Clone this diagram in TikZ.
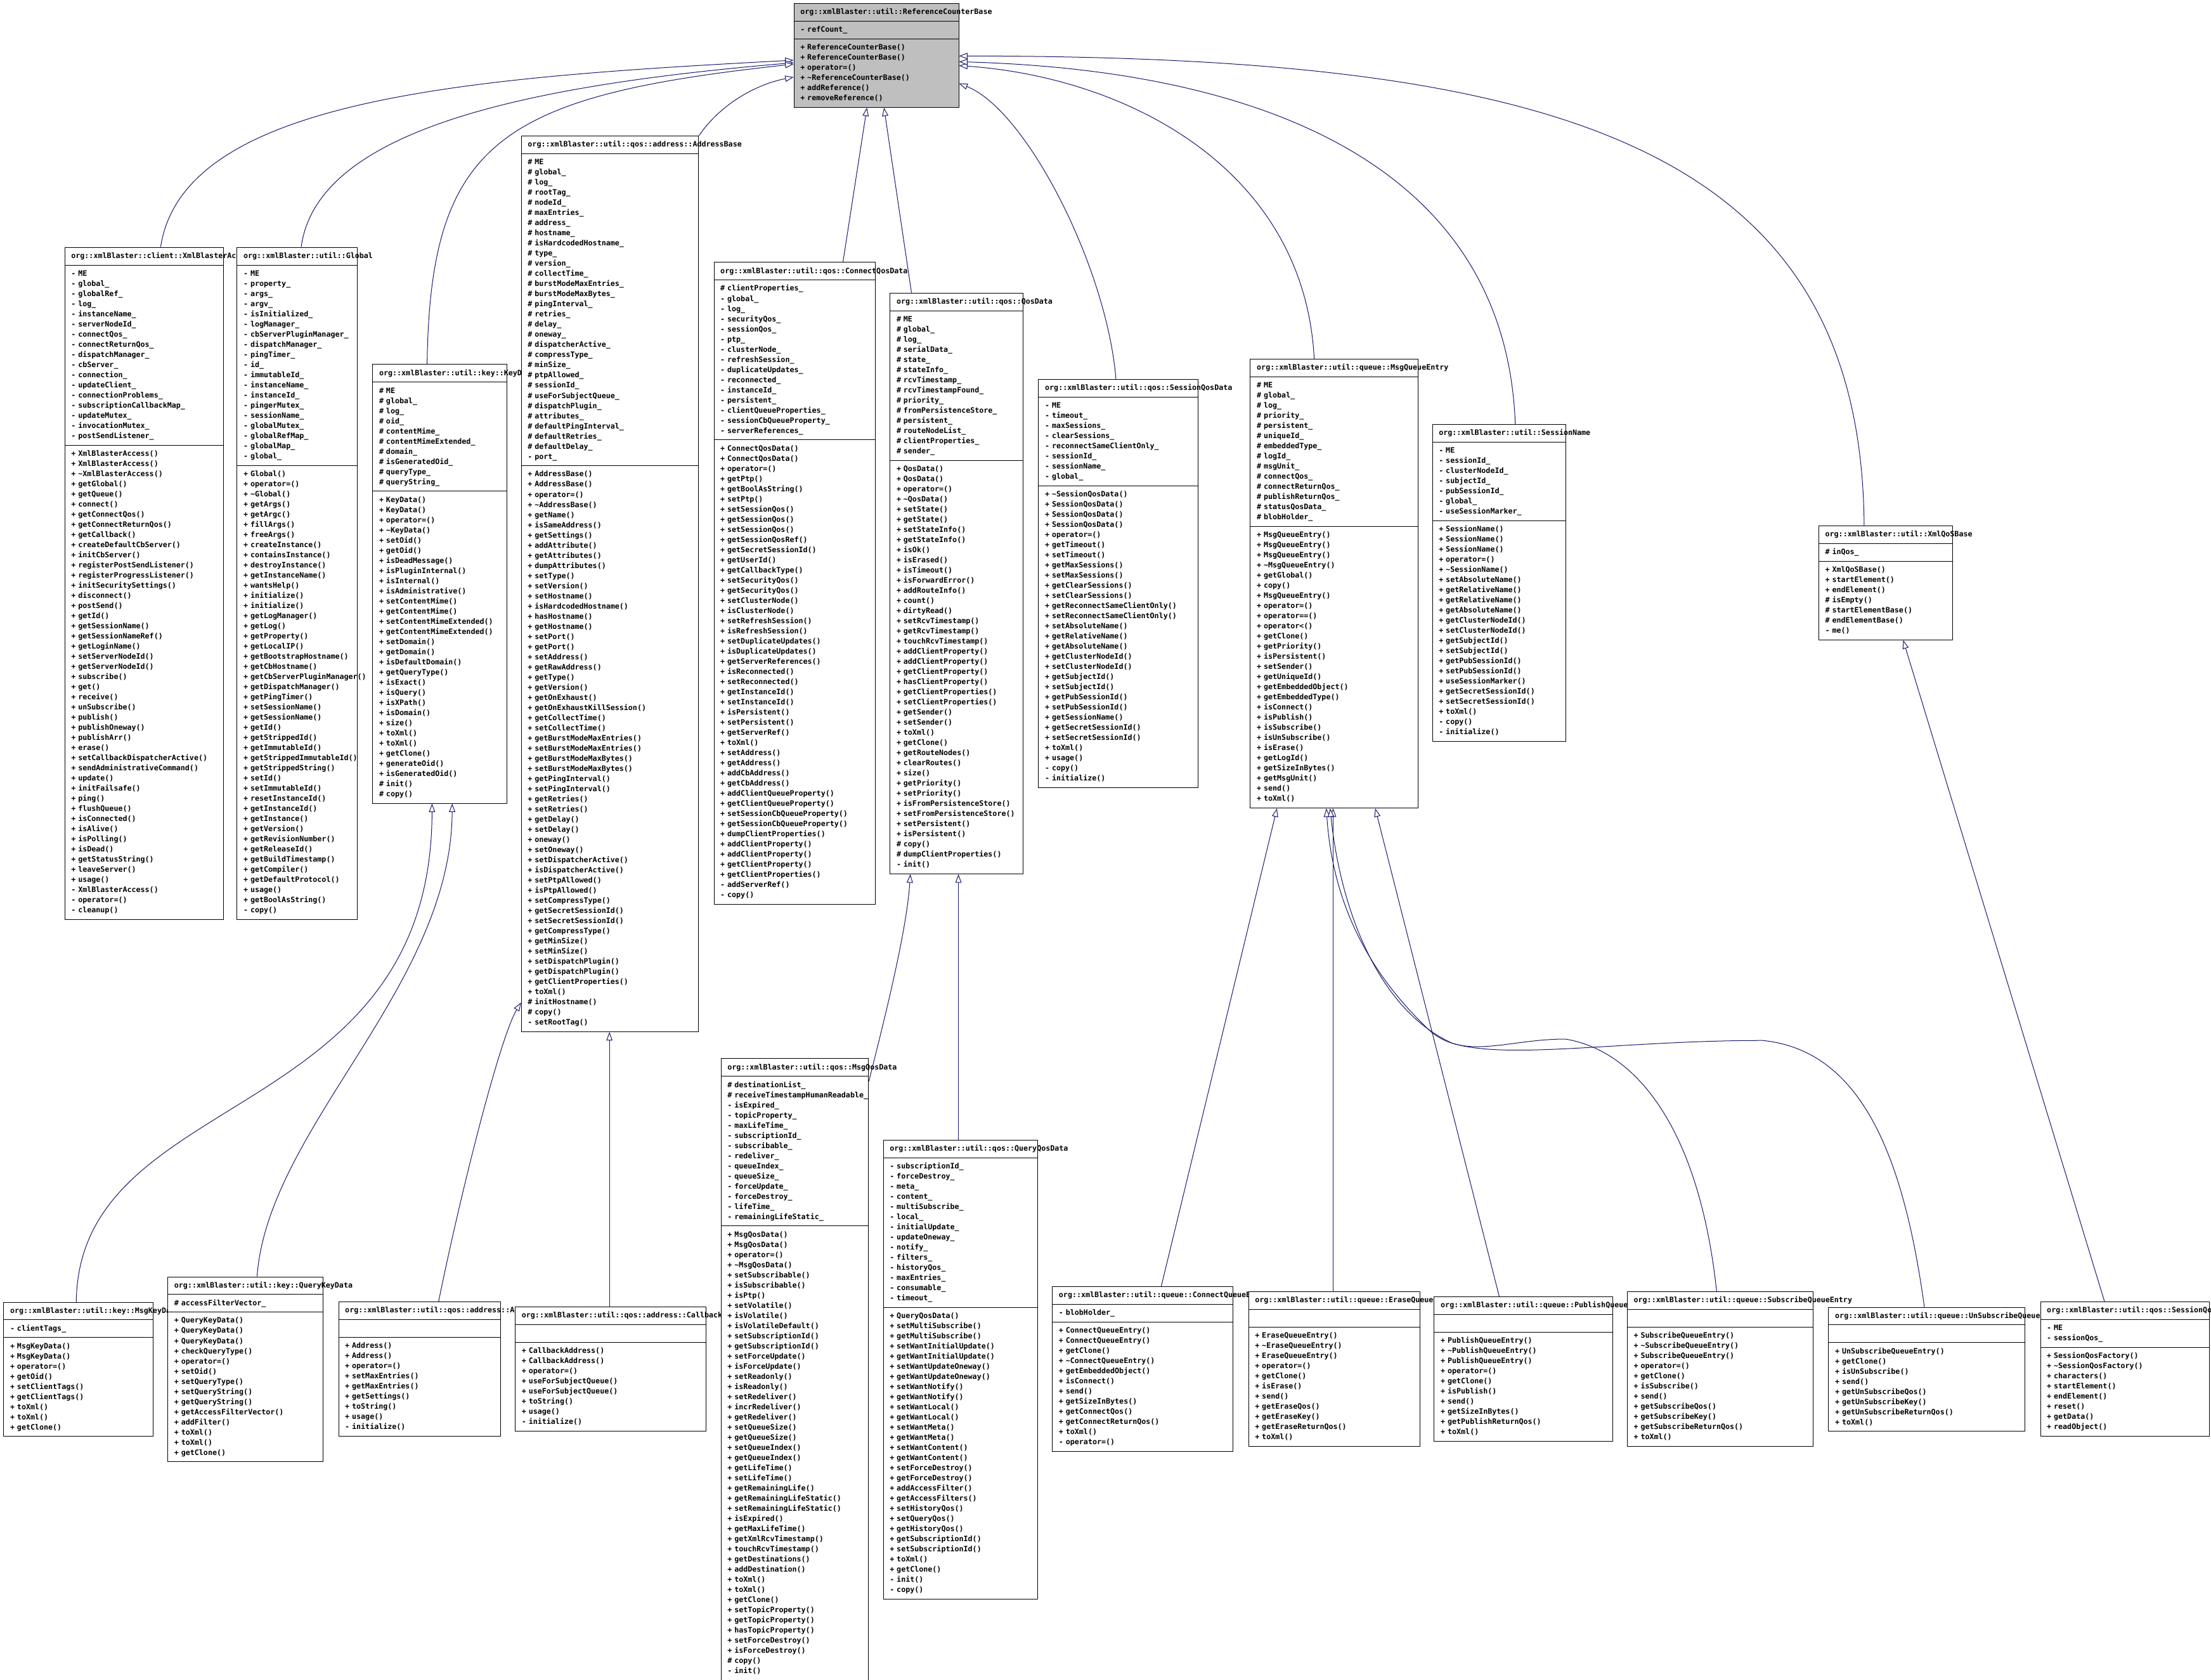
\documentclass[tikz,border=0pt]{standalone}
\usepackage{fontspec}
\setmainfont{DejaVu Sans Mono}[HyphenChar=None]
\usepackage{tikz}
\usetikzlibrary{shapes.multipart,arrows.meta,calc}
\setlength{\parindent}{0pt}
\definecolor{edgeblue}{RGB}{25,25,112}
\definecolor{basegray}{RGB}{191,191,191}
\newcommand{\dtor}{\textasciitilde}
\tikzset{
	umlclass/.style={rectangle split, rectangle split parts=3, draw=black, fill=white, line width=0.45pt,
		anchor=north west, align=left, inner xsep=4.6pt, inner ysep=2.45pt,
		font=\fontsize{5.25}{7.2}\selectfont\bfseries},
	inheritline/.style={draw=edgeblue, line width=0.45pt, -{Triangle[length=6pt,width=4.4pt,fill=white]}}
}
\begin{document}
\begin{tikzpicture}[x=1pt,y=-1pt]
		\fill[white] (0,0) rectangle (1568,1191.6);
		\useasboundingbox (0,0) rectangle (1568,1191.6);

		\node[umlclass, fill=basegray, text width=107.7pt] (refbase) at (562.8,2.25) {\strut org::xmlBlaster::util::ReferenceCounterBase\strut
			\nodepart{two}\strut -~refCount\_\strut
			\nodepart{three}\strut +~ReferenceCounterBase()\\+~ReferenceCounterBase()\\+~operator=()\\+~\dtor ReferenceCounterBase()\\+~addReference()\\+~removeReference()\strut};

		\node[umlclass, text width=103.2pt] (xba) at (45.7,175.2) {\strut org::xmlBlaster::client::XmlBlasterAccess\strut
			\nodepart{two}\strut -~ME\\-~global\_\\-~globalRef\_\\-~log\_\\-~instanceName\_\\-~serverNodeId\_\\-~connectQos\_\\-~connectReturnQos\_\\-~dispatchManager\_\\-~cbServer\_\\-~connection\_\\-~updateClient\_\\-~connectionProblems\_\\-~subscriptionCallbackMap\_\\-~updateMutex\_\\-~invocationMutex\_\\-~postSendListener\_\strut
			\nodepart{three}\strut +~XmlBlasterAccess()\\+~XmlBlasterAccess()\\+~\dtor XmlBlasterAccess()\\+~getGlobal()\\+~getQueue()\\+~connect()\\+~getConnectQos()\\+~getConnectReturnQos()\\+~getCallback()\\+~createDefaultCbServer()\\+~initCbServer()\\+~registerPostSendListener()\\+~registerProgressListener()\\+~initSecuritySettings()\\+~disconnect()\\+~postSend()\\+~getId()\\+~getSessionName()\\+~getSessionNameRef()\\+~getLoginName()\\+~setServerNodeId()\\+~getServerNodeId()\\+~subscribe()\\+~get()\\+~receive()\\+~unSubscribe()\\+~publish()\\+~publishOneway()\\+~publishArr()\\+~erase()\\+~setCallbackDispatcherActive()\\+~sendAdministrativeCommand()\\+~update()\\+~initFailsafe()\\+~ping()\\+~flushQueue()\\+~isConnected()\\+~isAlive()\\+~isPolling()\\+~isDead()\\+~getStatusString()\\+~leaveServer()\\+~usage()\\-~XmlBlasterAccess()\\-~operator=()\\-~cleanup()\strut};

		\node[umlclass, text width=76.2pt] (global) at (167.9,175.2) {\strut org::xmlBlaster::util::Global\strut
			\nodepart{two}\strut -~ME\\-~property\_\\-~args\_\\-~argv\_\\-~isInitialized\_\\-~logManager\_\\-~cbServerPluginManager\_\\-~dispatchManager\_\\-~pingTimer\_\\-~id\_\\-~immutableId\_\\-~instanceName\_\\-~instanceId\_\\-~pingerMutex\_\\-~sessionName\_\\-~globalMutex\_\\-~globalRefMap\_\\-~globalMap\_\\-~global\_\strut
			\nodepart{three}\strut +~Global()\\+~operator=()\\+~\dtor Global()\\+~getArgs()\\+~getArgc()\\+~fillArgs()\\+~freeArgs()\\+~createInstance()\\+~containsInstance()\\+~destroyInstance()\\+~getInstanceName()\\+~wantsHelp()\\+~initialize()\\+~initialize()\\+~getLogManager()\\+~getLog()\\+~getProperty()\\+~getLocalIP()\\+~getBootstrapHostname()\\+~getCbHostname()\\+~getCbServerPluginManager()\\+~getDispatchManager()\\+~getPingTimer()\\+~setSessionName()\\+~getSessionName()\\+~getId()\\+~getStrippedId()\\+~getImmutableId()\\+~getStrippedImmutableId()\\+~getStrippedString()\\+~setId()\\+~setImmutableId()\\+~resetInstanceId()\\+~getInstanceId()\\+~getInstance()\\+~getVersion()\\+~getRevisionNumber()\\+~getReleaseId()\\+~getBuildTimestamp()\\+~getCompiler()\\+~getDefaultProtocol()\\+~usage()\\+~getBoolAsString()\\-~copy()\strut};

		\node[umlclass, text width=86.1pt] (keydata) at (264.1,258.3) {\strut org::xmlBlaster::util::key::KeyData\strut
			\nodepart{two}\strut \#~ME\\\#~global\_\\\#~log\_\\\#~oid\_\\\#~contentMime\_\\\#~contentMimeExtended\_\\\#~domain\_\\\#~isGeneratedOid\_\\\#~queryType\_\\\#~queryString\_\strut
			\nodepart{three}\strut +~KeyData()\\+~KeyData()\\+~operator=()\\+~\dtor KeyData()\\+~setOid()\\+~getOid()\\+~isDeadMessage()\\+~isPluginInternal()\\+~isInternal()\\+~isAdministrative()\\+~setContentMime()\\+~getContentMime()\\+~setContentMimeExtended()\\+~getContentMimeExtended()\\+~setDomain()\\+~getDomain()\\+~isDefaultDomain()\\+~getQueryType()\\+~isExact()\\+~isQuery()\\+~isXPath()\\+~isDomain()\\+~size()\\+~toXml()\\+~toXml()\\+~getClone()\\+~generateOid()\\+~isGeneratedOid()\\\#~init()\\\#~copy()\strut};

		\node[umlclass, text width=116.5pt] (addrbase) at (369.5,96.3) {\strut org::xmlBlaster::util::qos::address::AddressBase\strut
			\nodepart{two}\strut \#~ME\\\#~global\_\\\#~log\_\\\#~rootTag\_\\\#~nodeId\_\\\#~maxEntries\_\\\#~address\_\\\#~hostname\_\\\#~isHardcodedHostname\_\\\#~type\_\\\#~version\_\\\#~collectTime\_\\\#~burstModeMaxEntries\_\\\#~burstModeMaxBytes\_\\\#~pingInterval\_\\\#~retries\_\\\#~delay\_\\\#~oneway\_\\\#~dispatcherActive\_\\\#~compressType\_\\\#~minSize\_\\\#~ptpAllowed\_\\\#~sessionId\_\\\#~useForSubjectQueue\_\\\#~dispatchPlugin\_\\\#~attributes\_\\\#~defaultPingInterval\_\\\#~defaultRetries\_\\\#~defaultDelay\_\\-~port\_\strut
			\nodepart{three}\strut +~AddressBase()\\+~AddressBase()\\+~operator=()\\+~\dtor AddressBase()\\+~getName()\\+~isSameAddress()\\+~getSettings()\\+~addAttribute()\\+~getAttributes()\\+~dumpAttributes()\\+~setType()\\+~setVersion()\\+~setHostname()\\+~isHardcodedHostname()\\+~hasHostname()\\+~getHostname()\\+~setPort()\\+~getPort()\\+~setAddress()\\+~getRawAddress()\\+~getType()\\+~getVersion()\\+~getOnExhaust()\\+~getOnExhaustKillSession()\\+~getCollectTime()\\+~setCollectTime()\\+~getBurstModeMaxEntries()\\+~setBurstModeMaxEntries()\\+~getBurstModeMaxBytes()\\+~setBurstModeMaxBytes()\\+~getPingInterval()\\+~setPingInterval()\\+~getRetries()\\+~setRetries()\\+~getDelay()\\+~setDelay()\\+~oneway()\\+~setOneway()\\+~setDispatcherActive()\\+~isDispatcherActive()\\+~setPtpAllowed()\\+~isPtpAllowed()\\+~setCompressType()\\+~getSecretSessionId()\\+~setSecretSessionId()\\+~getCompressType()\\+~getMinSize()\\+~setMinSize()\\+~setDispatchPlugin()\\+~getDispatchPlugin()\\+~getClientProperties()\\+~toXml()\\\#~initHostname()\\\#~copy()\\-~setRootTag()\strut};

		\node[umlclass, text width=105.3pt] (connqos) at (506.1,185.9) {\strut org::xmlBlaster::util::qos::ConnectQosData\strut
			\nodepart{two}\strut \#~clientProperties\_\\-~global\_\\-~log\_\\-~securityQos\_\\-~sessionQos\_\\-~ptp\_\\-~clusterNode\_\\-~refreshSession\_\\-~duplicateUpdates\_\\-~reconnected\_\\-~instanceId\_\\-~persistent\_\\-~clientQueueProperties\_\\-~sessionCbQueueProperty\_\\-~serverReferences\_\strut
			\nodepart{three}\strut +~ConnectQosData()\\+~ConnectQosData()\\+~operator=()\\+~getPtp()\\+~getBoolAsString()\\+~setPtp()\\+~setSessionQos()\\+~getSessionQos()\\+~setSessionQos()\\+~getSessionQosRef()\\+~getSecretSessionId()\\+~getUserId()\\+~getCallbackType()\\+~setSecurityQos()\\+~getSecurityQos()\\+~setClusterNode()\\+~isClusterNode()\\+~setRefreshSession()\\+~isRefreshSession()\\+~setDuplicateUpdates()\\+~isDuplicateUpdates()\\+~getServerReferences()\\+~isReconnected()\\+~setReconnected()\\+~getInstanceId()\\+~setInstanceId()\\+~isPersistent()\\+~setPersistent()\\+~getServerRef()\\+~toXml()\\+~setAddress()\\+~getAddress()\\+~addCbAddress()\\+~getCbAddress()\\+~addClientQueueProperty()\\+~getClientQueueProperty()\\+~setSessionCbQueueProperty()\\+~getSessionCbQueueProperty()\\+~dumpClientProperties()\\+~addClientProperty()\\+~addClientProperty()\\+~getClientProperty()\\+~getClientProperties()\\-~addServerRef()\\-~copy()\strut};

		\node[umlclass, text width=85.2pt] (qosdata) at (631,207.6) {\strut org::xmlBlaster::util::qos::QosData\strut
			\nodepart{two}\strut \#~ME\\\#~global\_\\\#~log\_\\\#~serialData\_\\\#~state\_\\\#~stateInfo\_\\\#~rcvTimestamp\_\\\#~rcvTimestampFound\_\\\#~priority\_\\\#~fromPersistenceStore\_\\\#~persistent\_\\\#~routeNodeList\_\\\#~clientProperties\_\\\#~sender\_\strut
			\nodepart{three}\strut +~QosData()\\+~QosData()\\+~operator=()\\+~\dtor QosData()\\+~setState()\\+~getState()\\+~setStateInfo()\\+~getStateInfo()\\+~isOk()\\+~isErased()\\+~isTimeout()\\+~isForwardError()\\+~addRouteInfo()\\+~count()\\+~dirtyRead()\\+~setRcvTimestamp()\\+~getRcvTimestamp()\\+~touchRcvTimestamp()\\+~addClientProperty()\\+~addClientProperty()\\+~getClientProperty()\\+~hasClientProperty()\\+~getClientProperties()\\+~setClientProperties()\\+~getSender()\\+~setSender()\\+~toXml()\\+~getClone()\\+~getRouteNodes()\\+~clearRoutes()\\+~size()\\+~getPriority()\\+~setPriority()\\+~isFromPersistenceStore()\\+~setFromPersistenceStore()\\+~setPersistent()\\+~isPersistent()\\\#~copy()\\\#~dumpClientProperties()\\-~init()\strut};

		\node[umlclass, text width=103.7pt] (sessqos) at (736.3,268.9) {\strut org::xmlBlaster::util::qos::SessionQosData\strut
			\nodepart{two}\strut -~ME\\-~timeout\_\\-~maxSessions\_\\-~clearSessions\_\\-~reconnectSameClientOnly\_\\-~sessionId\_\\-~sessionName\_\\-~global\_\strut
			\nodepart{three}\strut +~\dtor SessionQosData()\\+~SessionQosData()\\+~SessionQosData()\\+~SessionQosData()\\+~operator=()\\+~getTimeout()\\+~setTimeout()\\+~getMaxSessions()\\+~setMaxSessions()\\+~getClearSessions()\\+~setClearSessions()\\+~getReconnectSameClientOnly()\\+~setReconnectSameClientOnly()\\+~setAbsoluteName()\\+~getRelativeName()\\+~getAbsoluteName()\\+~getClusterNodeId()\\+~setClusterNodeId()\\+~getSubjectId()\\+~setSubjectId()\\+~getPubSessionId()\\+~setPubSessionId()\\+~getSessionName()\\+~getSecretSessionId()\\+~setSecretSessionId()\\+~toXml()\\+~usage()\\-~copy()\\-~initialize()\strut};

		\node[umlclass, text width=109.7pt] (msgentry) at (886.5,254.5) {\strut org::xmlBlaster::util::queue::MsgQueueEntry\strut
			\nodepart{two}\strut \#~ME\\\#~global\_\\\#~log\_\\\#~priority\_\\\#~persistent\_\\\#~uniqueId\_\\\#~embeddedType\_\\\#~logId\_\\\#~msgUnit\_\\\#~connectQos\_\\\#~connectReturnQos\_\\\#~publishReturnQos\_\\\#~statusQosData\_\\\#~blobHolder\_\strut
			\nodepart{three}\strut +~MsgQueueEntry()\\+~MsgQueueEntry()\\+~MsgQueueEntry()\\+~\dtor MsgQueueEntry()\\+~getGlobal()\\+~copy()\\+~MsgQueueEntry()\\+~operator=()\\+~operator==()\\+~operator<()\\+~getClone()\\+~getPriority()\\+~isPersistent()\\+~setSender()\\+~getUniqueId()\\+~getEmbeddedObject()\\+~getEmbeddedType()\\+~isConnect()\\+~isPublish()\\+~isSubscribe()\\+~isUnSubscribe()\\+~isErase()\\+~getLogId()\\+~getSizeInBytes()\\+~getMsgUnit()\\+~send()\\+~toXml()\strut};

		\node[umlclass, text width=85.4pt] (sessname) at (1015.6,300.9) {\strut org::xmlBlaster::util::SessionName\strut
			\nodepart{two}\strut -~ME\\-~sessionId\_\\-~clusterNodeId\_\\-~subjectId\_\\-~pubSessionId\_\\-~global\_\\-~useSessionMarker\_\strut
			\nodepart{three}\strut +~SessionName()\\+~SessionName()\\+~SessionName()\\+~operator=()\\+~\dtor SessionName()\\+~setAbsoluteName()\\+~getRelativeName()\\+~getRelativeName()\\+~getAbsoluteName()\\+~getClusterNodeId()\\+~setClusterNodeId()\\+~getSubjectId()\\+~setSubjectId()\\+~getPubSessionId()\\+~setPubSessionId()\\+~useSessionMarker()\\+~getSecretSessionId()\\+~setSecretSessionId()\\+~toXml()\\-~copy()\\-~initialize()\strut};

		\node[umlclass, text width=85.7pt] (xmlqos) at (1289.6,372.8) {\strut org::xmlBlaster::util::XmlQoSBase\strut
			\nodepart{two}\strut \#~inQos\_\strut
			\nodepart{three}\strut +~XmlQoSBase()\\+~startElement()\\+~endElement()\\\#~isEmpty()\\\#~startElementBase()\\\#~endElementBase()\\-~me()\strut};

		\node[umlclass, text width=96.9pt] (msgkey) at (2.4,923.4) {\strut org::xmlBlaster::util::key::MsgKeyData\strut
			\nodepart{two}\strut -~clientTags\_\strut
			\nodepart{three}\strut +~MsgKeyData()\\+~MsgKeyData()\\+~operator=()\\+~getOid()\\+~setClientTags()\\+~getClientTags()\\+~toXml()\\+~toXml()\\+~getClone()\strut};

		\node[umlclass, text width=101pt] (querykey) at (118.8,905.4) {\strut org::xmlBlaster::util::key::QueryKeyData\strut
			\nodepart{two}\strut \#~accessFilterVector\_\strut
			\nodepart{three}\strut +~QueryKeyData()\\+~QueryKeyData()\\+~QueryKeyData()\\+~checkQueryType()\\+~operator=()\\+~setOid()\\+~setQueryType()\\+~setQueryString()\\+~getQueryString()\\+~getAccessFilterVector()\\+~addFilter()\\+~toXml()\\+~toXml()\\+~getClone()\strut};

		\node[umlclass, text width=105.5pt] (address) at (239.9,923.3) {\strut org::xmlBlaster::util::qos::address::Address\strut
			\nodepart{two}\strut
			\nodepart{three}\strut +~Address()\\+~Address()\\+~operator=()\\+~setMaxEntries()\\+~getMaxEntries()\\+~getSettings()\\+~toString()\\+~usage()\\-~initialize()\strut};

		\node[umlclass, text width=126pt] (cbaddress) at (365.2,926.9) {\strut org::xmlBlaster::util::qos::address::CallbackAddress\strut
			\nodepart{two}\strut
			\nodepart{three}\strut +~CallbackAddress()\\+~CallbackAddress()\\+~operator=()\\+~useForSubjectQueue()\\+~useForSubjectQueue()\\+~toString()\\+~usage()\\-~initialize()\strut};

		\node[umlclass, text width=95.4pt] (msgqos) at (511.1,750.7) {\strut org::xmlBlaster::util::qos::MsgQosData\strut
			\nodepart{two}\strut \#~destinationList\_\\\#~receiveTimestampHumanReadable\_\\-~isExpired\_\\-~topicProperty\_\\-~maxLifeTime\_\\-~subscriptionId\_\\-~subscribable\_\\-~redeliver\_\\-~queueIndex\_\\-~queueSize\_\\-~forceUpdate\_\\-~forceDestroy\_\\-~lifeTime\_\\-~remainingLifeStatic\_\strut
			\nodepart{three}\strut +~MsgQosData()\\+~MsgQosData()\\+~operator=()\\+~\dtor MsgQosData()\\+~setSubscribable()\\+~isSubscribable()\\+~isPtp()\\+~setVolatile()\\+~isVolatile()\\+~isVolatileDefault()\\+~setSubscriptionId()\\+~getSubscriptionId()\\+~setForceUpdate()\\+~isForceUpdate()\\+~setReadonly()\\+~isReadonly()\\+~setRedeliver()\\+~incrRedeliver()\\+~getRedeliver()\\+~setQueueSize()\\+~getQueueSize()\\+~setQueueIndex()\\+~getQueueIndex()\\+~getLifeTime()\\+~setLifeTime()\\+~getRemainingLife()\\+~getRemainingLifeStatic()\\+~setRemainingLifeStatic()\\+~isExpired()\\+~getMaxLifeTime()\\+~getXmlRcvTimestamp()\\+~touchRcvTimestamp()\\+~getDestinations()\\+~addDestination()\\+~toXml()\\+~toXml()\\+~getClone()\\+~setTopicProperty()\\+~getTopicProperty()\\+~hasTopicProperty()\\+~setForceDestroy()\\+~isForceDestroy()\\\#~copy()\\-~init()\strut};

		\node[umlclass, text width=100.2pt] (queryqos) at (626.2,808.5) {\strut org::xmlBlaster::util::qos::QueryQosData\strut
			\nodepart{two}\strut -~subscriptionId\_\\-~forceDestroy\_\\-~meta\_\\-~content\_\\-~multiSubscribe\_\\-~local\_\\-~initialUpdate\_\\-~updateOneway\_\\-~notify\_\\-~filters\_\\-~historyQos\_\\-~maxEntries\_\\-~consumable\_\\-~timeout\_\strut
			\nodepart{three}\strut +~QueryQosData()\\+~setMultiSubscribe()\\+~getMultiSubscribe()\\+~setWantInitialUpdate()\\+~getWantInitialUpdate()\\+~setWantUpdateOneway()\\+~getWantUpdateOneway()\\+~setWantNotify()\\+~getWantNotify()\\+~setWantLocal()\\+~getWantLocal()\\+~setWantMeta()\\+~getWantMeta()\\+~setWantContent()\\+~getWantContent()\\+~setForceDestroy()\\+~getForceDestroy()\\+~addAccessFilter()\\+~getAccessFilters()\\+~setHistoryQos()\\+~setQueryQos()\\+~getHistoryQos()\\+~getSubscriptionId()\\+~setSubscriptionId()\\+~toXml()\\+~getClone()\\-~init()\\-~copy()\strut};

		\node[umlclass, text width=118.8pt] (connentry) at (746.1,912.5) {\strut org::xmlBlaster::util::queue::ConnectQueueEntry\strut
			\nodepart{two}\strut -~blobHolder\_\strut
			\nodepart{three}\strut +~ConnectQueueEntry()\\+~ConnectQueueEntry()\\+~getClone()\\+~\dtor ConnectQueueEntry()\\+~getEmbeddedObject()\\+~isConnect()\\+~send()\\+~getSizeInBytes()\\+~getConnectQos()\\+~getConnectReturnQos()\\+~toXml()\\-~operator=()\strut};

		\node[umlclass, text width=112.5pt] (eraseentry) at (885.2,916.1) {\strut org::xmlBlaster::util::queue::EraseQueueEntry\strut
			\nodepart{two}\strut
			\nodepart{three}\strut +~EraseQueueEntry()\\+~\dtor EraseQueueEntry()\\+~EraseQueueEntry()\\+~operator=()\\+~getClone()\\+~isErase()\\+~send()\\+~getEraseQos()\\+~getEraseKey()\\+~getEraseReturnQos()\\+~toXml()\strut};

		\node[umlclass, text width=117.2pt] (pubentry) at (1016.9,919.5) {\strut org::xmlBlaster::util::queue::PublishQueueEntry\strut
			\nodepart{two}\strut
			\nodepart{three}\strut +~PublishQueueEntry()\\+~\dtor PublishQueueEntry()\\+~PublishQueueEntry()\\+~operator=()\\+~getClone()\\+~isPublish()\\+~send()\\+~getSizeInBytes()\\+~getPublishReturnQos()\\+~toXml()\strut};

		\node[umlclass, text width=122.5pt] (subentry) at (1153.8,916.1) {\strut org::xmlBlaster::util::queue::SubscribeQueueEntry\strut
			\nodepart{two}\strut
			\nodepart{three}\strut +~SubscribeQueueEntry()\\+~\dtor SubscribeQueueEntry()\\+~SubscribeQueueEntry()\\+~operator=()\\+~getClone()\\+~isSubscribe()\\+~send()\\+~getSubscribeQos()\\+~getSubscribeKey()\\+~getSubscribeReturnQos()\\+~toXml()\strut};

		\node[umlclass, text width=129.9pt] (unsubentry) at (1296.6,927) {\strut org::xmlBlaster::util::queue::UnSubscribeQueueEntry\strut
			\nodepart{two}\strut
			\nodepart{three}\strut +~UnSubscribeQueueEntry()\\+~getClone()\\+~isUnSubscribe()\\+~send()\\+~getUnSubscribeQos()\\+~getUnSubscribeKey()\\+~getUnSubscribeReturnQos()\\+~toXml()\strut};

		\node[umlclass, text width=110.5pt] (sessfactory) at (1446.8,923.3) {\strut org::xmlBlaster::util::qos::SessionQosFactory\strut
			\nodepart{two}\strut -~ME\\-~sessionQos\_\strut
			\nodepart{three}\strut +~SessionQosFactory()\\+~\dtor SessionQosFactory()\\+~characters()\\+~startElement()\\+~endElement()\\+~reset()\\+~getData()\\+~readObject()\strut};

		\draw[inheritline] ($(xba.north west)+(68.2,0)$) .. controls (130,70) and (330,55) .. ($(refbase.north west)+(0,40.45)$);
		\draw[inheritline] ($(global.north west)+(45.7,0)$) .. controls (225,90) and (380,60) .. ($(refbase.north west)+(0,42.25)$);
		\draw[inheritline] ($(keydata.north west)+(38.8,0)$) .. controls (305,100) and (355,68) .. ($(refbase.north west)+(0,43.25)$);
		\draw[inheritline] (addrbase.north east) .. controls (510,75) and (535,60) .. ($(refbase.north west)+(0,52.45)$);
		\draw[inheritline] ($(connqos.north west)+(91.7,0)$) -- ($(refbase.south west)+(52,0)$);
		\draw[inheritline] ($(qosdata.north west)+(15.4,0)$) -- ($(refbase.south west)+(64.1,0)$);
		\draw[inheritline] ($(sessqos.north west)+(55.1,0)$) .. controls (785,190) and (728,78) .. ($(refbase.north east)+(0,56.95)$);
		\draw[inheritline] ($(msgentry.north west)+(45.5,0)$) .. controls (925,120) and (800,55) .. ($(refbase.north east)+(0,44.25)$);
		\draw[inheritline] ($(sessname.north west)+(59,0)$) .. controls (1068,120) and (900,50) .. ($(refbase.north east)+(0,41.55)$);
		\draw[inheritline] ($(xmlqos.north west)+(32.4,0)$) .. controls (1320,100) and (1100,40) .. ($(refbase.north east)+(0,37.45)$);

		\draw[inheritline] ($(msgkey.north west)+(51.7,0)$) .. controls (56,770) and (306,800) .. ($(keydata.south west)+(42.3,0)$);
		\draw[inheritline] ($(querykey.north west)+(63.5,0)$) .. controls (190,800) and (320,700) .. ($(keydata.south west)+(56.6,0)$);
		\draw[inheritline] ($(address.north west)+(71.1,0)$) .. controls (328,840) and (355,735) .. ($(addrbase.south west)+(0,-20.9)$);
		\draw[inheritline] ($(cbaddress.north west)+(67,0)$) -- ($(addrbase.south west)+(62.7,0)$);
		\draw[inheritline] ($(msgqos.north east)+(0,16.3)$) .. controls (628,720) and (643,660) .. ($(qosdata.south west)+(14.6,0)$);
		\draw[inheritline] ($(queryqos.north west)+(53.5,0)$) -- ($(qosdata.south west)+(48.7,0)$);
		\draw[inheritline] ($(connentry.north west)+(77.4,0)$) -- ($(msgentry.south west)+(19.1,0)$);
		\draw[inheritline] ($(eraseentry.north west)+(60.2,0)$) -- ($(msgentry.south west)+(58.9,0)$);
		\draw[inheritline] ($(pubentry.north west)+(46.3,0)$) -- ($(msgentry.south west)+(88.8,0)$);
		\draw[inheritline] ($(subentry.north west)+(63.6,0)$) .. controls (1205,800) and (1160,745) .. (1110,737)
			.. controls (1070,737) and (1040,752) .. (1015,732) .. controls (970,690) and (945,640) .. ($(msgentry.south west)+(54.1,0)$);
		\draw[inheritline] ($(unsubentry.north west)+(68.1,0)$) .. controls (1350,820) and (1320,745) .. (1250,738)
			.. controls (1150,738) and (1070,752) .. (1030,740) .. controls (975,715) and (950,640) .. ($(msgentry.south west)+(56.8,0)$);
		\draw[inheritline] ($(sessfactory.north west)+(45.7,0)$) -- ($(xmlqos.south west)+(60.1,0)$);
\end{tikzpicture}
\end{document}
